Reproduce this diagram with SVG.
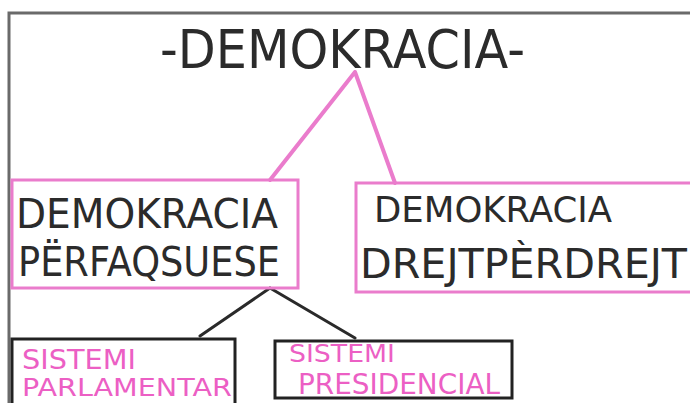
<svg xmlns="http://www.w3.org/2000/svg" width="690" height="403" viewBox="0 0 690 403">
<style>
.frame{fill:none;stroke:#6a6a6a;stroke-width:3}
.pbox{fill:none;stroke:#ea7ccc;stroke-width:3}
.kbox{fill:none;stroke:#222;stroke-width:3}
.pl{stroke:#ea7ccc;stroke-width:4;fill:none;stroke-linecap:round}
.kl{stroke:#2a2a2a;stroke-width:3;fill:none;stroke-linecap:round}
.t{font-family:"DejaVu Sans","Liberation Sans",sans-serif;fill:#2b2b2b}
.tp{font-family:"DejaVu Sans","Liberation Sans",sans-serif;fill:#ec5fc4}
</style>
<rect width="690" height="403" fill="#fff"/>
<rect class="frame" x="9" y="13" width="700" height="420"/>
<g id="title"><text class="t" x="160" y="68" font-size="54" textLength="365" lengthAdjust="spacingAndGlyphs">-DEMOKRACIA-</text></g>
<g id="connectors">
<path class="pl" d="M355 72 L270 180 M355 72 L395 183"/>
<path class="kl" d="M270 288 L200 336 M270 288 L355 338"/>
</g>
<g id="n-perfaqsuese">
<rect class="pbox" x="12" y="180" width="286" height="108"/>
<text class="t" x="16" y="228" font-size="40" textLength="262" lengthAdjust="spacingAndGlyphs">DEMOKRACIA</text>
<text class="t" x="18" y="276" font-size="40" textLength="262" lengthAdjust="spacingAndGlyphs">PËRFAQSUESE</text>
</g>
<g id="n-drejtperdrejt">
<rect class="pbox" x="356" y="183" width="350" height="109"/>
<text class="t" x="374" y="222" font-size="36" textLength="238" lengthAdjust="spacingAndGlyphs">DEMOKRACIA</text>
<text class="t" x="360" y="278" font-size="40" textLength="327" lengthAdjust="spacingAndGlyphs">DREJTPÈRDREJT</text>
</g>
<g id="n-parlamentar">
<rect class="kbox" x="12" y="339" width="223" height="80"/>
<text class="tp" x="22" y="369" font-size="26" textLength="114" lengthAdjust="spacingAndGlyphs">SISTEMI</text>
<text class="tp" x="22" y="396" font-size="25" textLength="210" lengthAdjust="spacingAndGlyphs">PARLAMENTAR</text>
</g>
<g id="n-presidencial">
<rect class="kbox" x="275" y="341" width="237" height="57"/>
<text class="tp" x="289" y="362" font-size="25" textLength="106" lengthAdjust="spacingAndGlyphs">SISTEMI</text>
<text class="tp" x="298" y="394" font-size="28" textLength="202" lengthAdjust="spacingAndGlyphs">PRESIDENCIAL</text>
</g>
</svg>
